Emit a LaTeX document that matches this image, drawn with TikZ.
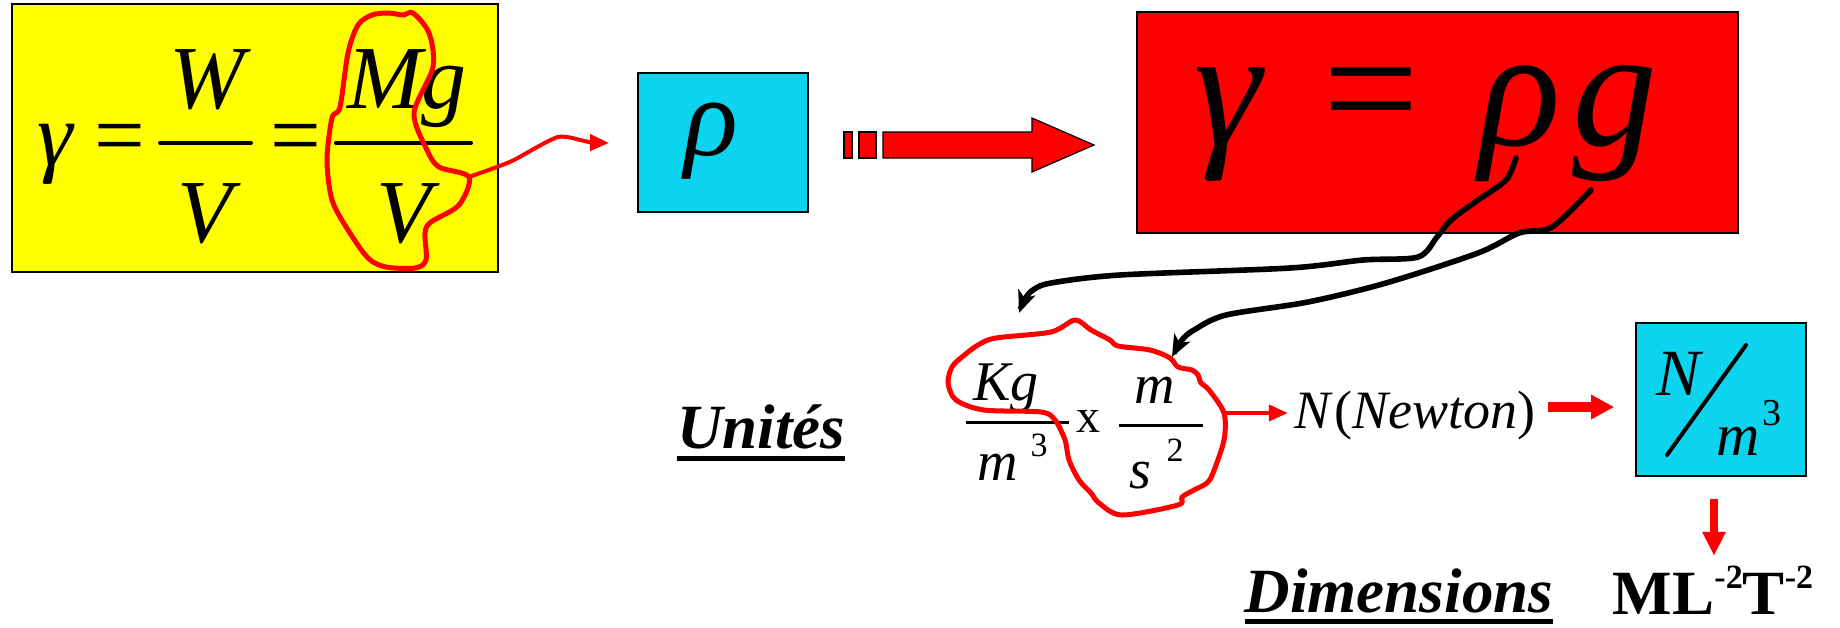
\documentclass[tikz,border=0pt]{standalone}
\usepackage{fontspec}
\setmainfont{Liberation Serif}
\usetikzlibrary{arrows.meta}
\definecolor{boxyellow}{RGB}{255,255,0}
\definecolor{boxcyan}{RGB}{12,212,238}
\definecolor{boxred}{RGB}{255,0,0}
\newcommand{\setfs}[1]{\fontsize{#1}{#1}\selectfont}

\begin{document}
\begin{tikzpicture}[x=0.5pt, y=-0.5pt,
  txt/.style={inner sep=0pt, anchor=base},
  colbox/.style={draw, line width=0.8pt, inner sep=0pt},
  fracline/.style={line width=2pt, line cap=round},
  blob/.style={red, line width=2.5pt, line join=round},
  redarrow/.style={red, line width=2pt, -{Triangle[length=9.5pt, width=8pt]}},
  fatarrow/.style={red, line width=5pt, -{Triangle[length=11.5pt, width=11.5pt]}},
  downarrow/.style={red, line width=4pt, -{Triangle[length=12pt, width=11pt]}},
  blackarrow/.style={line width=2.8pt, line cap=round, -{Stealth[length=11pt, width=9pt, inset=3pt]}}]
\useasboundingbox (0,0) rectangle (1840,627);

\node[colbox, fill=boxyellow, minimum width=243pt, minimum height=134pt] (ybox) at (255,138) {};
\node[txt, font=\setfs{45pt}\itshape] (gam) at (55,165) {γ};
\node[txt, font=\setfs{45pt}] (eqa) at (120,165) {=};
\node[txt, font=\setfs{45pt}\itshape] (wnum) at (207,108) {W};
\node[txt, font=\setfs{45pt}\itshape] (vden) at (205,242) {V};
\node[txt, font=\setfs{45pt}] (eqb) at (296,165) {=};
\node[txt, font=\setfs{45pt}\itshape] (mgnum) at (407,108) {Mg};
\node[txt, font=\setfs{45pt}\itshape] (vdenb) at (404,242) {V};
\draw[fracline] (160,143) -- (251,143);
\draw[fracline] (336,143) -- (471,143);

\draw[blob] plot[smooth cycle, tension=0.5] coordinates {(469,177) (439,167) (427,150) (414,113) (433,67) (429,33) (413,13) (403,15) (388,13) (372,15) (358,25) (348,53) (340,107) (332,118) (327,160) (332,200) (348,230) (368,258) (386,267) (415,268) (426,260) (425,233) (431,222) (459,205)};
\coordinate (blobaout) at (469,177);
\coordinate (rhoin) at (609,143);
\draw[redarrow] plot[smooth, tension=0.4] coordinates {(blobaout) (494,168) (514,160) (558,137) (589,142) (rhoin)};

\node[colbox, fill=boxcyan, minimum width=85pt, minimum height=69.5pt] (rhobox) at (723,142.5) {};
\node[txt, font=\setfs{56pt}\itshape] (rho) at (711,155) {ρ};

\filldraw[fill=red, line width=0.6pt] (844,132) rectangle (852,158);
\filldraw[fill=red, line width=0.6pt] (859,132) rectangle (876,158);
\filldraw[fill=red, line width=0.6pt] (883,132) -- (1032,132) -- (1032,118) -- (1094,145) -- (1032,172) -- (1032,158) -- (883,158) -- cycle;

\node[colbox, fill=boxred, minimum width=300.5pt, minimum height=110.5pt] (rbox) at (1437.5,122.5) {};
\node[txt, font=\setfs{85pt}\itshape] (gamR) at (1228,145) {γ};
\node[txt, font=\setfs{85pt}] (eqR) at (1371,145) {=};
\node[txt, font=\setfs{85pt}\itshape] (rhoR) at (1520,145) {ρ};
\node[txt, font=\setfs{85pt}\itshape] (gR) at (1615,145) {g};

\coordinate (rhofoot) at (1516,158);
\coordinate (gfoot) at (1591,190);
\coordinate (kgtop) at (1019,313);
\coordinate (mtop) at (1172,357);
\draw[blackarrow] plot[smooth, tension=0.5] coordinates {(rhofoot) (1506,180) (1478,200) (1451,220) (1437,237) (1418,257) (1363,260) (1290,268) (1120,275) (1051,283) (1033,290) (1025,299) (kgtop)};
\draw[blackarrow] plot[smooth, tension=0.5] coordinates {(gfoot) (1552,227) (1519,233) (1478,253) (1386,283) (1308,302) (1226,315) (1194,330) (1182,340) (mtop)};

\node[txt, font=\setfs{31.5pt}\bfseries\itshape] (unites) at (761,448) {Unités};
\draw[line width=2.5pt] ([yshift=-5pt]unites.base west) -- ([yshift=-5pt]unites.base east);

\node[txt, font=\setfs{28pt}\itshape] (kg) at (1006,400) {Kg};
\draw[line width=1.5pt] (966,422) -- (1069,422);
\node[txt, font=\setfs{28pt}\itshape] (mden) at (998,480) {m};
\node[txt, font=\setfs{17pt}] (cube) at (1039,456) {3};
\node[txt, font=\setfs{24pt}] (times) at (1088,432) {x};
\node[txt, font=\setfs{28pt}\itshape] (mnum) at (1155,403) {m};
\draw[line width=1.5pt] (1119,425) -- (1203,425);
\node[txt, font=\setfs{28pt}\itshape] (sden) at (1140,488) {s};
\node[txt, font=\setfs{17pt}] (square) at (1175,461) {2};

\draw[blob] plot[smooth cycle, tension=0.5] coordinates {(1224,413) (1224,440) (1213,473) (1207,483) (1194,490) (1182,497) (1178,505) (1122,515) (1099,503) (1091,493) (1079,480) (1069,460) (1065,440) (1055,420) (1041,412) (984,410) (956,400) (948,383) (952,367) (962,357) (978,345) (996,338) (1051,332) (1075,320) (1091,330) (1110,340) (1118,346) (1150,350) (1170,358) (1178,367) (1192,370) (1198,375) (1201,383) (1209,390)};
\coordinate (blobbout) at (1224,413);
\node[txt, font=\setfs{27pt}] (newton) at (1415,428) {\textit{N}\kern1pt(\textit{Newton})};
\draw[redarrow, shorten >=3pt] (blobbout) -- (blobbout -| newton.west);

\node[colbox, fill=boxcyan, minimum width=85pt, minimum height=76.5pt] (nbox) at (1721,399.5) {};
\coordinate (fatstart) at (1548,407);
\draw[fatarrow, shorten >=10.5pt] (fatstart) -- (fatstart -| nbox.west);
\node[txt, font=\setfs{33pt}\itshape] (nnum) at (1678,395) {N};
\draw[line width=2pt, line cap=round] (1746,345) -- (1667,455);
\node[txt, font=\setfs{30pt}\itshape] (mcub) at (1738,455) {m};
\node[txt, font=\setfs{19pt}] (cubb) at (1772,425) {3};

\draw[downarrow] ([xshift=-3.5pt, yshift=-11pt]nbox.south) -- ++(0,57);

\node[txt, text depth=0pt, font=\setfs{31.5pt}\bfseries\itshape] (dims) at (1399,612) {Dimensions};
\draw[line width=2.5pt] ([yshift=-4.5pt]dims.base west) -- ([yshift=-4.5pt]dims.base east);
\node[txt, text depth=0pt, font=\setfs{31.5pt}\bfseries] (mlt) at (1713,614) {ML\raisebox{13pt}{\setfs{17pt}-2}T\raisebox{13pt}{\setfs{17pt}-2}};

\end{tikzpicture}
\end{document}
